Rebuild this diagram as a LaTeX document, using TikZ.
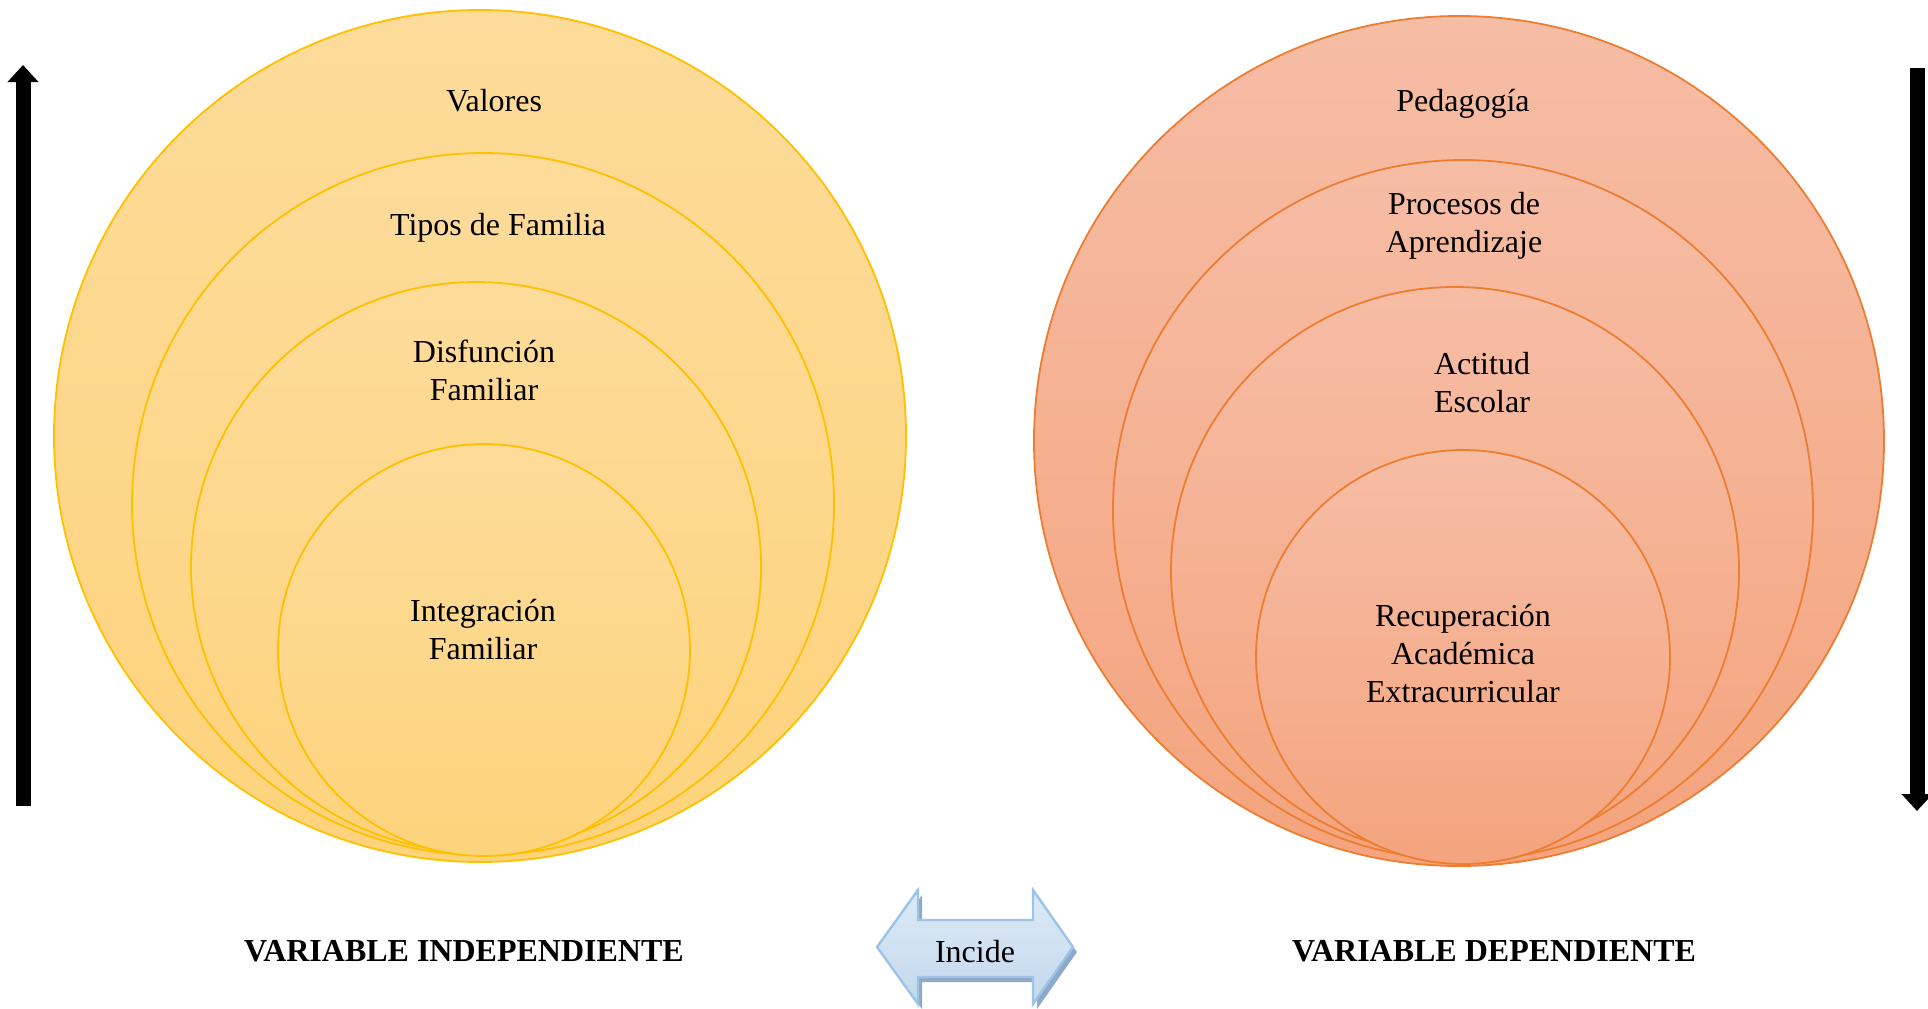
\documentclass[tikz,border=0pt]{standalone}
\usepackage{fontspec}
\setmainfont{Liberation Serif}
\usetikzlibrary{arrows.meta}

\definecolor{goldline}{HTML}{FFC000}
\definecolor{goldtop}{HTML}{FDDB9A}
\definecolor{goldbot}{HTML}{FDD37C}
\definecolor{coralline}{HTML}{ED7D31}
\definecolor{coraltop}{HTML}{F6BDA5}
\definecolor{coralbot}{HTML}{F4A47E}
\definecolor{arrowline}{HTML}{9DC3E6}
\definecolor{arrowtop}{HTML}{DCEAF6}
\definecolor{arrowbot}{HTML}{C3D8EE}
\definecolor{arrowshade}{HTML}{8FAAC8}

\newcommand{\incidepath}{(877,947) -- (918,890) -- (918,920) -- (1033,920) -- (1033,890) -- (1073,947) -- (1033,1004) -- (1033,977) -- (918,977) -- (918,1004) -- cycle}

\begin{document}
\begin{tikzpicture}[
  x=0.5pt, y=-0.5pt,
  goldring/.style={circle, draw=goldline, line width=0.9pt, top color=goldtop, bottom color=goldbot, inner sep=0pt},
  coralring/.style={circle, draw=coralline, line width=0.9pt, top color=coraltop, bottom color=coralbot, inner sep=0pt},
  ringtext/.style={font=\fontsize{16}{19}\selectfont, align=center, inner sep=0pt},
  vartitle/.style={font=\fontsize{16}{19}\selectfont\bfseries, inner sep=0pt},
  bigarrow/.style={line width=7.5pt, -{Triangle[length=8.5pt, width=15pt]}}
]
\useasboundingbox (0,0) rectangle (1928,1008);

\node[goldring, minimum size=426pt] (valores) at (480,436) {};
\node[goldring, minimum size=351pt] (tipos) at (483,504) {};
\node[goldring, minimum size=285pt] (disfuncion) at (476,567) {};
\node[goldring, minimum size=206pt] (integracion) at (484,650) {};

\node[coralring, minimum size=425pt] (pedagogia) at (1459,441) {};
\node[coralring, minimum size=350pt] (procesos) at (1463,510) {};
\node[coralring, minimum size=284pt] (actitud) at (1455,571) {};
\node[coralring, minimum size=207pt] (recuperacion) at (1463,657) {};

\node[ringtext] (valoresT) at (494,101) {Valores};
\node[ringtext] (tiposT) at (498,228) {Tipos de Familia};
\node[ringtext] (disfuncionT) at (484,370) {Disfunción\\Familiar};
\node[ringtext] (integracionT) at (483,630) {Integración\\Familiar};

\node[ringtext] (pedagogiaT) at (1463,104) {Pedagogía};
\node[ringtext] (procesosT) at (1464,226) {Procesos de\\Aprendizaje};
\node[ringtext] (actitudT) at (1482,383) {Actitud\\Escolar};
\node[ringtext] (recuperacionT) at (1463,654) {Recuperación\\Académica\\Extracurricular};

\node[vartitle] (independiente) at (464,951) {VARIABLE INDEPENDIENTE};
\node[vartitle] (dependiente) at (1494,951) {VARIABLE DEPENDIENTE};

\coordinate (upstart) at (23,806);
\coordinate (upend) at (23,65);
\coordinate (downstart) at (1917,68);
\coordinate (downend) at (1917,811);
\draw[bigarrow] (upstart) -- (upend);
\draw[bigarrow] (downstart) -- (downend);

\fill[arrowshade, shift={(4,5)}] \incidepath;
\shade[top color=arrowtop, middle color=white, bottom color=arrowbot, draw=arrowline, line width=1.2pt] \incidepath;
\node[ringtext] (incide) at (975,952) {Incide};

\end{tikzpicture}
\end{document}
